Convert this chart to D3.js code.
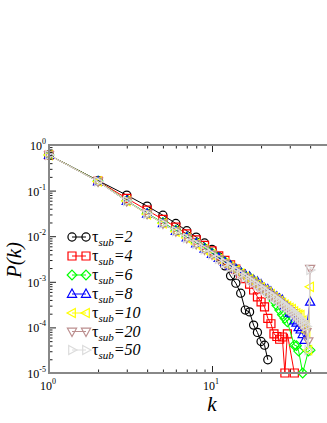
<!DOCTYPE html>
<html>
<head>
<meta charset="utf-8">
<script src="https://cdn.jsdelivr.net/npm/d3@7"></script>
<style>
  body { margin: 0; background: #fff; }
  svg { display: block; font-family: "Liberation Serif", "DejaVu Serif", serif; }
</style>
</head>
<body>
<div id="chart"></div>
<script>
// degree k (shared by every series)
var degrees = d3.range(1, 41);

// log10 P(k), null = no point
var tau2 = [-0.22, -0.78, -1.10, -1.34, -1.54, -1.72, -1.88, -2.02, -2.15, -2.29,
            -2.45, -2.65, -2.87, -3.03, -3.25, -3.62, -3.66, -3.95, -4.11, -4.31,
            -4.39, -4.71];
var tau4 = [-0.22, -0.79, -1.17, -1.43, -1.63, -1.80, -1.95, -2.08, -2.20, -2.32,
            -2.43, -2.53, -2.63, -2.72, -2.82, -2.93, -3.05, -3.18, -3.33, -3.44,
            -3.55, -3.80, -3.92, -4.14, -4.20, -4.26, -4.21, -5.00, -4.14, null,
            null, -5.00];
var tau6 = [-0.22, -0.79, -1.22, -1.50, -1.70, -1.87, -2.02, -2.15, -2.26, -2.37,
            -2.47, -2.56, -2.64, -2.72, -2.79, -2.86, -2.90, -2.97, -3.04, -3.10,
            -3.17, -3.24, -3.33, -3.42, -3.52, -3.62, -3.72, -3.80, -3.88, null,
            null, -4.39, -4.40, -4.52, null, -5.00, null, null, -4.52, -4.50];
var tau8 = [-0.22, -0.80, -1.23, -1.51, -1.72, -1.89, -2.03, -2.16, -2.28, -2.39,
            -2.48, -2.57, -2.65, -2.72, -2.79, -2.85, -2.89, -2.96, -3.00, -3.06,
            -3.14, -3.17, -3.22, -3.30, -3.33, -3.37, -3.40, -3.52, -3.55, -3.68,
            -3.70, -3.85, -3.90, -4.00, -4.05, -4.15, -4.28, null, null, -3.44];
var tau10 = [-0.22, -0.80, -1.23, -1.52, -1.72, -1.90, -2.04, -2.17, -2.29, -2.40,
             -2.50, -2.59, -2.67, -2.75, -2.82, -2.89, -2.94, -3.00, -3.06, -3.12,
             -3.18, -3.22, -3.27, -3.33, -3.38, -3.42, -3.46, -3.50, -3.54, -3.57,
             -3.60, -3.65, -3.69, -3.72, -3.73, -3.85, -3.95, -4.10, -4.50, -3.11];
var tau20 = [-0.22, -0.80, -1.23, -1.51, -1.72, -1.89, -2.04, -2.17, -2.29, -2.40,
             -2.50, -2.59, -2.68, -2.76, -2.83, -2.90, -2.97, -3.03, -3.09, -3.15,
             -3.20, -3.26, -3.31, -3.36, -3.41, -3.46, -3.50, -3.55, -3.60, -3.64,
             -3.68, -3.74, -3.78, -3.85, -3.90, -3.95, -4.02, -4.10, -4.30, -2.71];
var tau50 = [-0.22, -0.80, -1.23, -1.51, -1.72, -1.89, -2.04, -2.17, -2.29, -2.40,
             -2.50, -2.59, -2.68, -2.76, -2.83, -2.90, -2.96, -3.02, -3.08, -3.13,
             -3.19, -3.24, -3.29, -3.34, -3.38, -3.43, -3.47, -3.52, -3.56, -3.60,
             -3.64, -3.68, -3.73, -3.77, -3.82, -3.86, -3.92, -3.98, -4.50, -2.74];

var seriesNames = ["2", "4", "6", "8", "10", "20", "50"];
var seriesValues = [tau2, tau4, tau6, tau8, tau10, tau20, tau50];
var seriesColors = ["#000000", "#ff0000", "#00ff00", "#0000ff", "#ffff00", "#bc8f8f", "#dcdcdc"];
var seriesSymbols = ["circle", "square", "diamond", "triangleUp", "triangleLeft", "triangleDown", "triangleRight"];

var xMajor = [1, 10];
var xMinor = [2, 3, 4, 5, 6, 7, 8, 9, 20, 30, 40];
var yExponents = [0, -1, -2, -3, -4, -5];

// Layout
var W = 327, H = 423;
var plot = {left: 49, top: 145, right: 327, bottom: 373};

var svg = d3.select("#chart").append("svg")
    .attr("width", W)
    .attr("height", H);

var x = d3.scaleLog().domain([1, 10]).range([plot.left, 212]);
var y = d3.scaleLog().domain([1, 1e-5]).range([plot.top, plot.bottom]);

var yMinor = [];
yExponents.slice(1).forEach(function(e) {
    for (var m = 2; m <= 9; m++) yMinor.push(m * Math.pow(10, e));
});

// symbol paths centred on 0,0
function symbolPath(name) {
    if (name == "circle") return d3.symbol(d3.symbolCircle, 52)();
    if (name == "square") return "M-4,-4H4V4H-4Z";
    if (name == "diamond") return "M0,-4.8L4.8,0L0,4.8L-4.8,0Z";
    return "M0,-5L4.6,3.3L-4.6,3.3Z";
}
function symbolRotate(name) {
    if (name == "triangleDown") return 180;
    if (name == "triangleLeft") return -90;
    if (name == "triangleRight") return 90;
    return 0;
}

// Series
seriesValues.forEach(function(vals, si) {
    var pts = [];
    vals.forEach(function(v, i) {
        if (v !== null) pts.push({k: degrees[i], p: Math.pow(10, v)});
    });
    var g = svg.append("g").attr("class", "series series_" + si);

    g.append("path")
        .datum(pts)
        .attr("fill", "none")
        .attr("stroke", seriesColors[si])
        .attr("stroke-width", 1)
        .attr("d", d3.line().x(function(d) { return x(d.k); }).y(function(d) { return y(d.p); }));

    g.selectAll(".pt").data(pts).enter().append("path")
        .attr("class", "pt")
        .attr("d", symbolPath(seriesSymbols[si]))
        .attr("transform", function(d) {
            return "translate(" + x(d.k) + "," + y(d.p) + ") rotate(" + symbolRotate(seriesSymbols[si]) + ")";
        })
        .attr("fill", "none")
        .attr("stroke", seriesColors[si])
        .attr("stroke-width", 1.2);
});

// Axes (ticks point inward)
function styleAxis(g) {
    g.select(".domain").remove();
    g.selectAll(".tick line").attr("stroke", "#222").attr("stroke-width", 1);
}

svg.append("g")
    .attr("transform", "translate(0," + plot.bottom + ")")
    .call(d3.axisBottom(x).tickValues(xMinor).tickSize(-3.5).tickFormat(""))
    .call(styleAxis);
svg.append("g")
    .attr("transform", "translate(0," + plot.bottom + ")")
    .call(d3.axisBottom(x).tickValues(xMajor).tickSize(-7).tickFormat(""))
    .call(styleAxis);
svg.append("g")
    .attr("transform", "translate(0," + plot.top + ")")
    .call(d3.axisTop(x).tickValues(xMinor).tickSize(-3.5).tickFormat(""))
    .call(styleAxis);
svg.append("g")
    .attr("transform", "translate(0," + plot.top + ")")
    .call(d3.axisTop(x).tickValues(xMajor).tickSize(-7).tickFormat(""))
    .call(styleAxis);
svg.append("g")
    .attr("transform", "translate(" + plot.left + ",0)")
    .call(d3.axisLeft(y).tickValues(yMinor).tickSize(-3.5).tickFormat(""))
    .call(styleAxis);
svg.append("g")
    .attr("transform", "translate(" + plot.left + ",0)")
    .call(d3.axisLeft(y).tickValues(yExponents.map(function(e) { return Math.pow(10, e); })).tickSize(-7).tickFormat(""))
    .call(styleAxis);

// frame lines
svg.append("line").attr("x1", plot.left).attr("x2", plot.right).attr("y1", plot.top).attr("y2", plot.top)
    .attr("stroke", "#888").attr("stroke-width", 2);
svg.append("line").attr("x1", plot.left).attr("x2", plot.right).attr("y1", plot.bottom).attr("y2", plot.bottom)
    .attr("stroke", "#888").attr("stroke-width", 2);
svg.append("line").attr("x1", plot.left).attr("x2", plot.left).attr("y1", plot.top - 1).attr("y2", plot.bottom + 1)
    .attr("stroke", "#888").attr("stroke-width", 2);

// Tick labels with superscripts
yExponents.forEach(function(e) {
    var t = svg.append("text")
        .attr("x", 46)
        .attr("y", y(Math.pow(10, e)) + 5)
        .attr("text-anchor", "end")
        .attr("font-size", 12);
    t.append("tspan").text("10");
    t.append("tspan").attr("font-size", 8).attr("dy", -6).text(e);
});
xMajor.forEach(function(v, i) {
    var t = svg.append("text")
        .attr("x", x(v) - 1)
        .attr("y", 390)
        .attr("text-anchor", "middle")
        .attr("font-size", 12);
    t.append("tspan").text("10");
    t.append("tspan").attr("font-size", 8).attr("dy", -6).text(i);
});

// Axis titles
svg.append("text")
    .attr("x", 212)
    .attr("y", 411)
    .attr("text-anchor", "middle")
    .attr("font-size", 21)
    .attr("font-style", "italic")
    .text("k");
svg.append("text")
    .attr("transform", "translate(21,260) rotate(-90)")
    .attr("text-anchor", "middle")
    .attr("font-size", 21)
    .attr("font-style", "italic")
    .text("P(k)");

// Legend
var legendY = [237, 256, 275, 294, 313, 331.5, 350];
seriesNames.forEach(function(name, si) {
    var g = svg.append("g").attr("transform", "translate(0," + legendY[si] + ")");
    g.append("line").attr("x1", 72).attr("x2", 86).attr("y1", 0).attr("y2", 0)
        .attr("stroke", seriesColors[si]).attr("stroke-width", 1);
    [72, 86].forEach(function(px) {
        g.append("path")
            .attr("d", symbolPath(seriesSymbols[si]))
            .attr("transform", "translate(" + px + ",0) rotate(" + symbolRotate(seriesSymbols[si]) + ")")
            .attr("fill", "none")
            .attr("stroke", seriesColors[si])
            .attr("stroke-width", 1.2);
    });
    var t = g.append("text").attr("x", 92).attr("y", 5).attr("font-size", 16);
    t.append("tspan").text("\u03c4");
    t.append("tspan").attr("font-size", 11).attr("font-style", "italic").attr("dy", 4).text("sub");
    t.append("tspan").attr("font-style", "italic").attr("dy", -4).text("=" + name);
});
</script>
</body>
</html>
